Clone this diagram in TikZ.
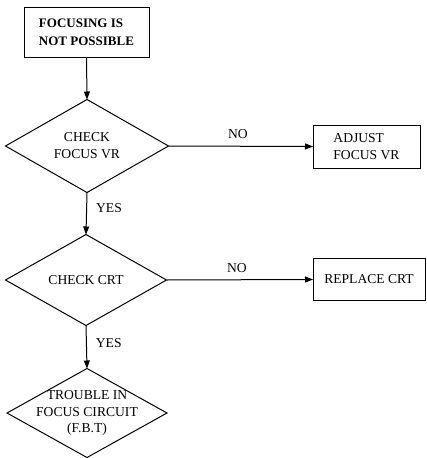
\documentclass[tikz,border=0pt]{standalone}
\usepackage{fontspec}
\setmainfont{Liberation Serif}
\usetikzlibrary{shapes.geometric,arrows.meta}
\begin{document}
\begin{tikzpicture}[x=1pt,y=-1pt,
  every node/.style={font=\fontsize{13.6}{17}\selectfont},
  line/.style={line width=1pt},
  arr/.style={line, -{Triangle[length=8pt,width=6pt]}},
  boxnode/.style={draw, line width=1pt, rectangle, inner sep=0pt, outer sep=0pt, align=left},
  dia/.style={draw, line width=1pt, diamond, inner sep=0pt, outer sep=0pt},
  lab/.style={inner sep=0pt}
]
\useasboundingbox (0,0) rectangle (427,458);
\node[boxnode, minimum width=125pt, minimum height=50pt, font=\bfseries\fontsize{13}{18}\selectfont] (start) at (86.5,32) {FOCUSING IS\\NOT POSSIBLE};
\node[dia, minimum width=163pt, minimum height=93pt, label={[align=center,lab]center:CHECK\\FOCUS VR}] (d1) at (87,146) {};
\node[dia, minimum width=161pt, minimum height=91pt, label={[lab]center:CHECK CRT}] (d2) at (86,280) {};
\node[dia, minimum width=160pt, minimum height=89pt, label={[align=center,lab,font=\fontsize{13.6}{16.5}\selectfont]center:TROUBLE IN\\FOCUS CIRCUIT\\(F.B.T)}] (d3) at (87,413) {};
\node[boxnode, minimum width=107pt, minimum height=43pt] (adj) at (366.5,146.5) {ADJUST\\FOCUS VR};
\node[boxnode, minimum width=112pt, minimum height=42pt] (rep) at (369,279.5) {REPLACE CRT};
\draw[arr] (start.south) -- (d1.north);
\draw[arr] (d1.south) -- node[lab, pos=0.36, anchor=west, xshift=9pt] {YES} (d2.north);
\draw[arr] (d2.south) -- node[lab, pos=0.4, anchor=west, xshift=9pt] {YES} (d3.north);
\draw[arr] (d1.east) -- node[lab, pos=0.48, above=7pt] {NO} (adj.west);
\draw[arr] (d2.east) -- node[lab, pos=0.48, above=7pt] {NO} (rep.west);
\end{tikzpicture}
\end{document}
